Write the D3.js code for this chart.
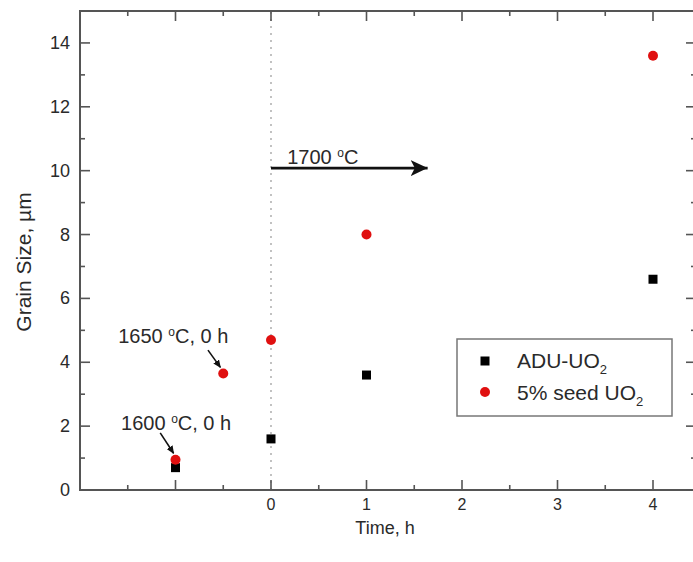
<!DOCTYPE html>
<html>
<head>
<meta charset="utf-8">
<script src="https://cdn.jsdelivr.net/npm/d3@7"></script>
<style>
  body { margin: 0; background: #fff; }
  text { font-family: "Liberation Sans", Arial, sans-serif; fill: #2a2a2a; }
</style>
</head>
<body>
<div id="chart"></div>
<script>
// data
var aduTime = [-1, 0, 1, 4];
var aduSize = [0.7, 1.6, 3.6, 6.6];
var seedTime = [-1, -0.5, 0, 1, 4];
var seedSize = [0.95, 3.65, 4.7, 8.0, 13.6];
var xTickLabels = [0, 1, 2, 3, 4];
var yTickLabels = [0, 2, 4, 6, 8, 10, 12, 14];

var width = 693, height = 562;
var plotLeft = 80, plotTop = 11, plotBottom = 490;

var x = d3.scaleLinear().domain([-2, 4.45]).range([plotLeft, plotLeft + 6.45 * 95.5]);
var y = d3.scaleLinear().domain([0, 15]).range([plotBottom, plotTop]);

var svg = d3.select('#chart').append('svg')
  .attr('width', width)
  .attr('height', height);

var axisColor = '#555';

// dotted line at t = 0
svg.append('line')
  .attr('x1', x(0)).attr('x2', x(0))
  .attr('y1', y(0)).attr('y2', y(15))
  .attr('stroke', '#999')
  .attr('stroke-width', 1.2)
  .attr('stroke-dasharray', '2,5');

// frame
svg.append('rect')
  .attr('x', x(-2)).attr('y', y(15))
  .attr('width', x(4.45) - x(-2))
  .attr('height', y(0) - y(15))
  .attr('fill', 'none')
  .attr('stroke', axisColor)
  .attr('stroke-width', 2);

// ticks, pointing inward on all four sides
var xMajor = d3.range(-1, 5, 1), xMinor = d3.range(-1.5, 4.5, 1);
var yMajor = d3.range(0, 16, 2), yMinor = d3.range(1, 16, 2);

function hTicks(vals, len) {
  vals.forEach(function(v) {
    svg.append('line').attr('x1', x(v)).attr('x2', x(v))
      .attr('y1', y(0)).attr('y2', y(0) - len)
      .attr('stroke', axisColor).attr('stroke-width', 1.6);
    svg.append('line').attr('x1', x(v)).attr('x2', x(v))
      .attr('y1', y(15)).attr('y2', y(15) + len)
      .attr('stroke', axisColor).attr('stroke-width', 1.6);
  });
}
function vTicks(vals, len) {
  vals.forEach(function(v) {
    svg.append('line').attr('y1', y(v)).attr('y2', y(v))
      .attr('x1', x(-2)).attr('x2', x(-2) + len)
      .attr('stroke', axisColor).attr('stroke-width', 1.6);
    svg.append('line').attr('y1', y(v)).attr('y2', y(v))
      .attr('x1', x(4.45)).attr('x2', x(4.45) - len)
      .attr('stroke', axisColor).attr('stroke-width', 1.6);
  });
}
hTicks(xMajor, 10); hTicks(xMinor, 5);
vTicks(yMajor.filter(function(v) { return v < 15; }), 10);
vTicks(yMinor.filter(function(v) { return v < 15; }), 5);

// tick labels
svg.selectAll('.xl').data(xTickLabels).enter().append('text')
  .attr('x', function(d) { return x(d); })
  .attr('y', y(0) + 20)
  .attr('text-anchor', 'middle')
  .style('font-size', '16px')
  .text(function(d) { return d; });

svg.selectAll('.yl').data(yTickLabels).enter().append('text')
  .attr('x', x(-2) - 10)
  .attr('y', function(d) { return y(d) + 6; })
  .attr('text-anchor', 'end')
  .style('font-size', '18px')
  .text(function(d) { return d; });

// axis titles
svg.append('text')
  .attr('x', 385).attr('y', 534)
  .attr('text-anchor', 'middle')
  .style('font-size', '18px')
  .text('Time, h');

svg.append('text')
  .attr('transform', 'translate(31,262) rotate(-90)')
  .attr('text-anchor', 'middle')
  .style('font-size', '21px')
  .text('Grain Size, \u00b5m');

// arrow markers
var defs = svg.append('defs');
defs.append('marker')
  .attr('id', 'head')
  .attr('viewBox', '0 0 10 10')
  .attr('refX', 9).attr('refY', 5)
  .attr('markerWidth', 8).attr('markerHeight', 7)
  .attr('markerUnits', 'userSpaceOnUse')
  .attr('orient', 'auto')
  .attr('preserveAspectRatio', 'none')
  .append('path').attr('d', 'M0,0 L10,5 L0,10 Z').attr('fill', '#111');

defs.append('marker')
  .attr('id', 'bighead')
  .attr('viewBox', '0 0 10 10')
  .attr('refX', 10).attr('refY', 5)
  .attr('markerWidth', 17).attr('markerHeight', 16)
  .attr('markerUnits', 'userSpaceOnUse')
  .attr('orient', 'auto')
  .attr('preserveAspectRatio', 'none')
  .append('path').attr('d', 'M0,0 L10,5 L0,10 L2.5,5 Z').attr('fill', '#111');

// 1700 °C arrow
svg.append('line')
  .attr('x1', x(0)).attr('y1', y(10.08))
  .attr('x2', x(1.64)).attr('y2', y(10.08))
  .attr('stroke', '#111').attr('stroke-width', 2.6)
  .attr('marker-end', 'url(#bighead)');

function degLabel(tx, ty, pre, post) {
  var t = svg.append('text').attr('x', x(tx)).attr('y', y(ty)).style('font-size', '20px');
  t.append('tspan').text(pre);
  t.append('tspan').attr('dy', -7).style('font-size', '12px').text('o');
  t.append('tspan').attr('dy', 7).text(post);
}
degLabel(0.17, 10.2, '1700 ', 'C');
degLabel(-1.6, 4.6, '1650 ', 'C, 0 h');
degLabel(-1.57, 1.88, '1600 ', 'C, 0 h');

// small arrows to the pre-sintered points
[[-0.66, 4.38, -0.53, 3.84], [-1.16, 1.79, -1.02, 1.15]].forEach(function(a) {
  svg.append('line')
    .attr('x1', x(a[0])).attr('y1', y(a[1]))
    .attr('x2', x(a[2])).attr('y2', y(a[3]))
    .attr('stroke', '#111').attr('stroke-width', 1.6)
    .attr('marker-end', 'url(#head)');
});

// points
svg.selectAll('.adu').data(aduTime).enter().append('rect')
  .attr('x', function(d) { return x(d) - 4.5; })
  .attr('y', function(d, i) { return y(aduSize[i]) - 4.5; })
  .attr('width', 9).attr('height', 9)
  .attr('fill', '#000');

svg.selectAll('.seed').data(seedTime).enter().append('circle')
  .attr('cx', function(d) { return x(d); })
  .attr('cy', function(d, i) { return y(seedSize[i]); })
  .attr('r', 5)
  .attr('fill', '#e01010');

// legend
var lg = svg.append('g');
lg.append('rect')
  .attr('x', 457).attr('y', 339)
  .attr('width', 215).attr('height', 77)
  .attr('fill', '#fff')
  .attr('stroke', '#777').attr('stroke-width', 1.5);
lg.append('rect').attr('x', 480.5).attr('y', 356.5).attr('width', 9).attr('height', 9).attr('fill', '#000');
lg.append('circle').attr('cx', 485).attr('cy', 392).attr('r', 5).attr('fill', '#e01010');

function uo2(tx, ty, label) {
  var t = lg.append('text').attr('x', tx).attr('y', ty).style('font-size', '21px');
  t.append('tspan').text(label);
  t.append('tspan').attr('dy', 6).style('font-size', '13px').text('2');
}
uo2(517, 368, 'ADU-UO');
uo2(517, 400, '5% seed UO');
</script>
</body>
</html>
